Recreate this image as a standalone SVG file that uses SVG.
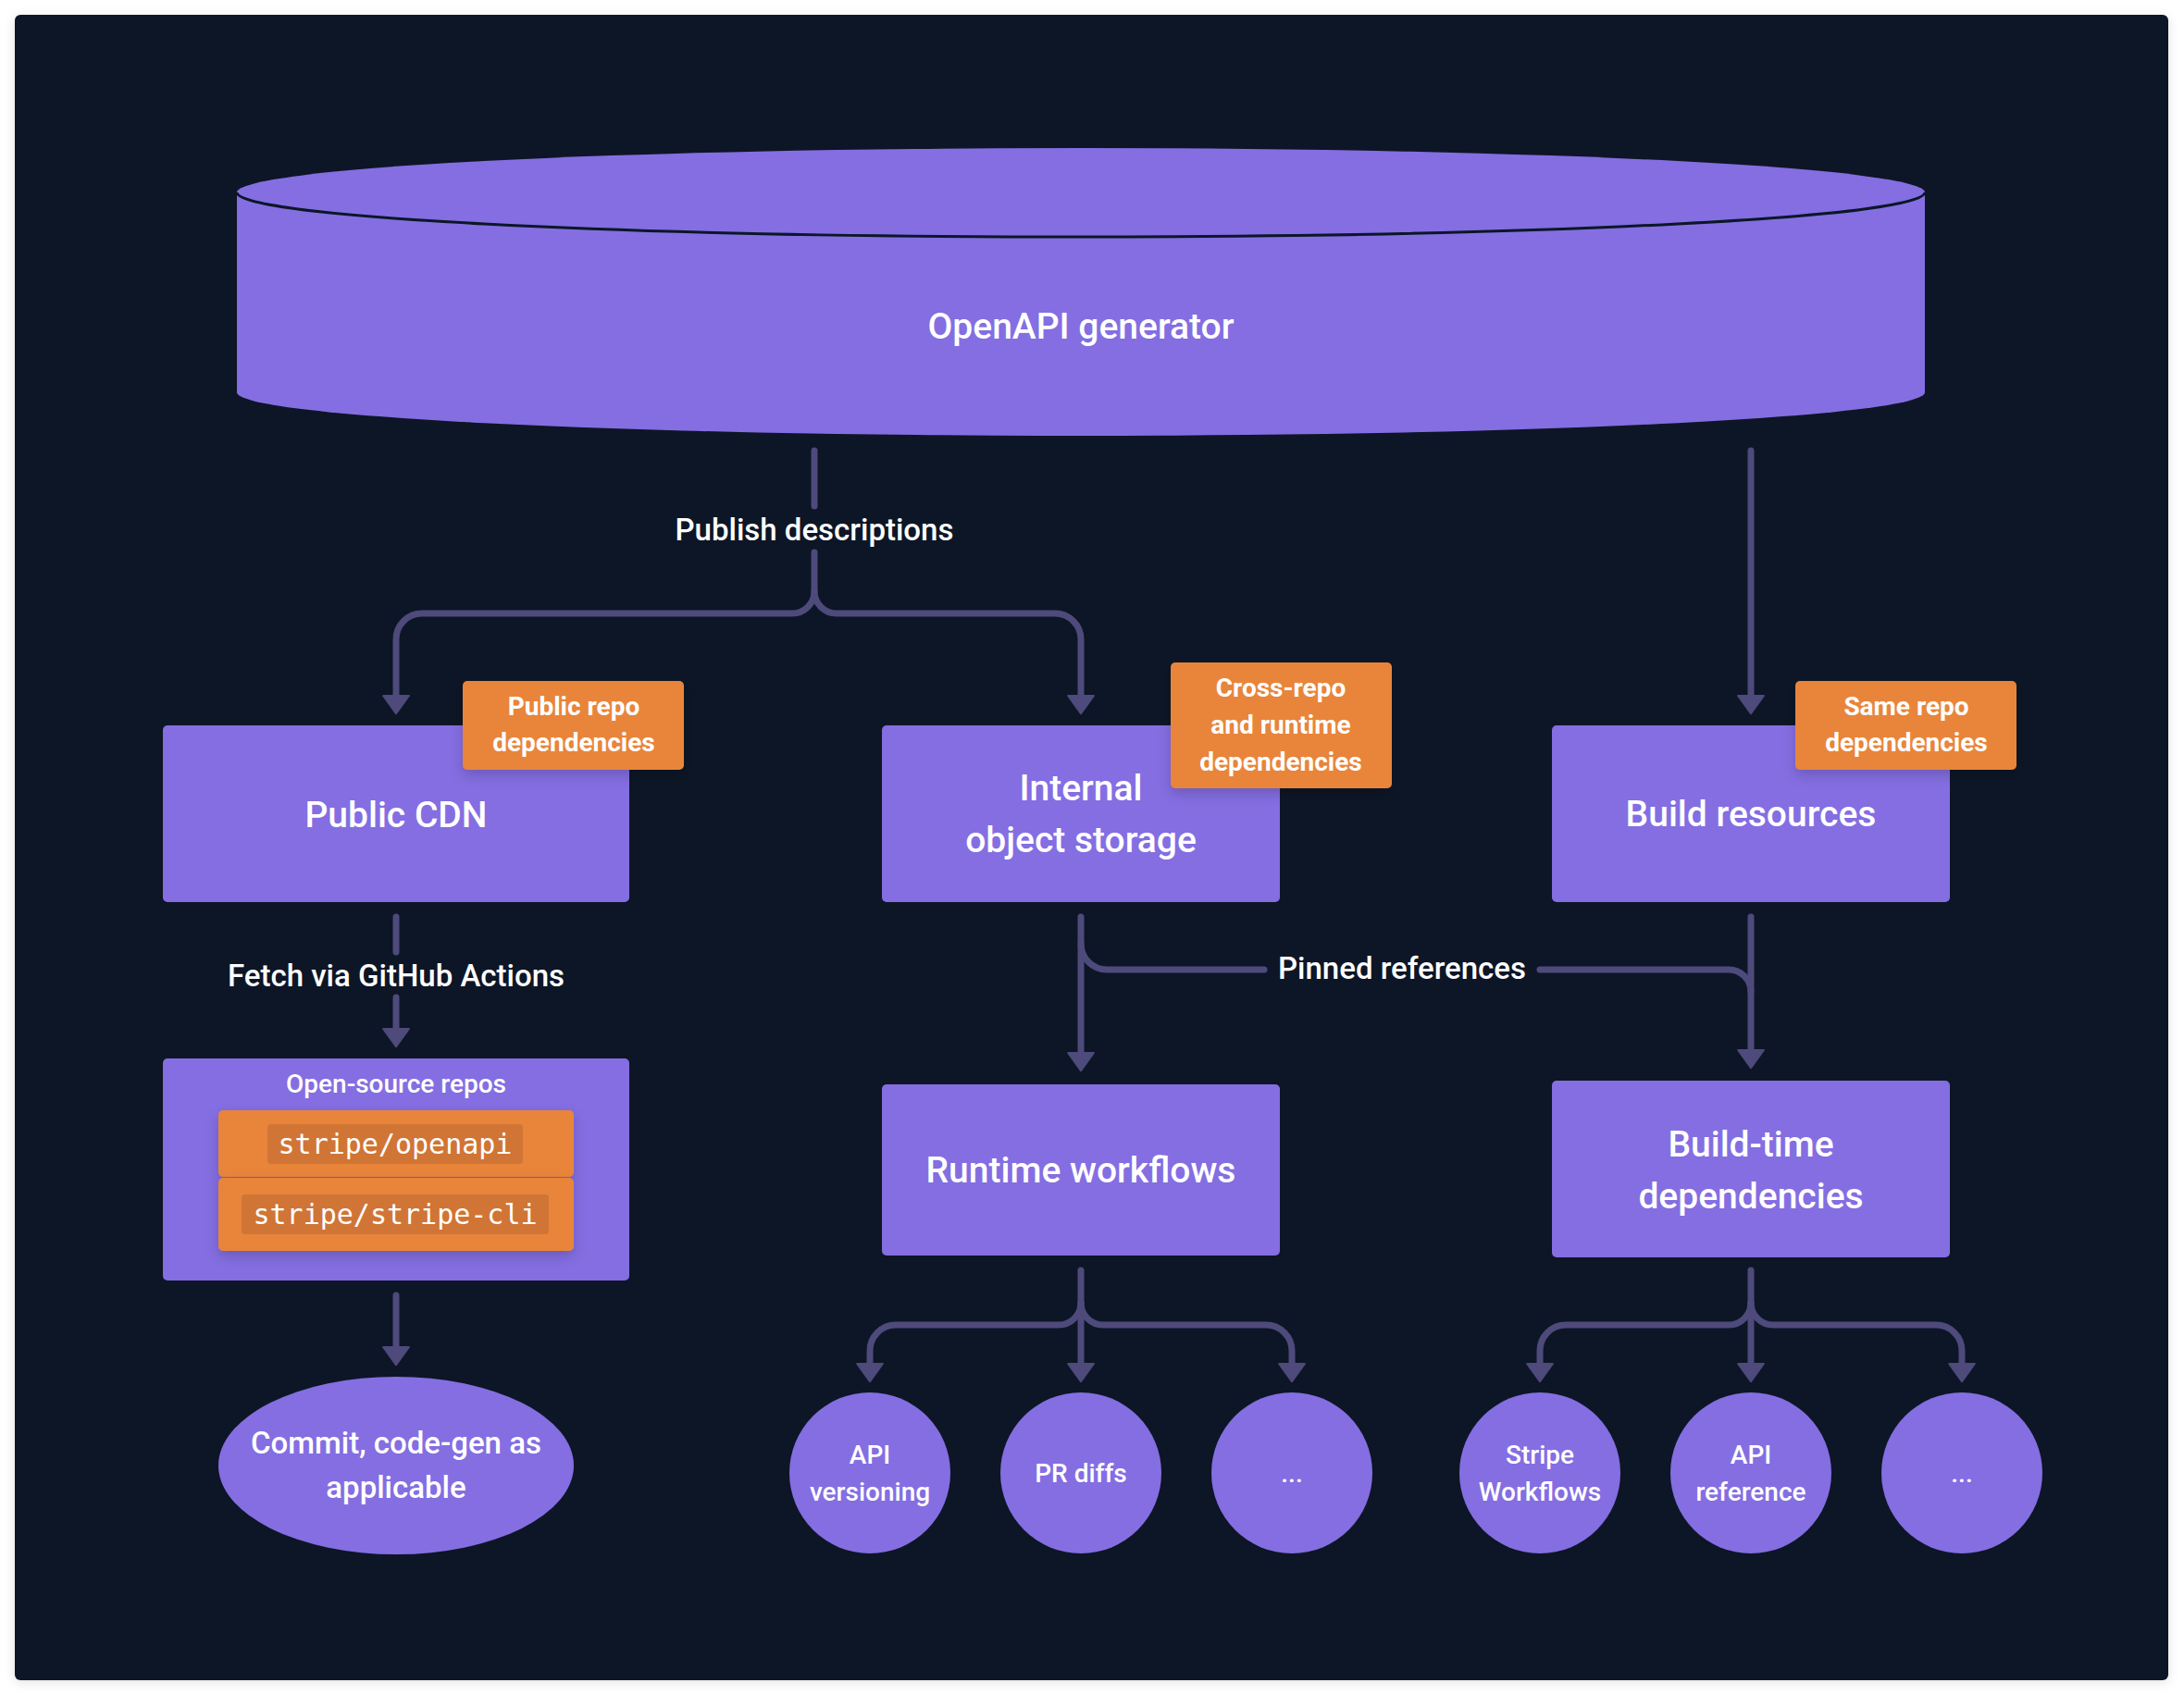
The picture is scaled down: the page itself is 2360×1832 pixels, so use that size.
<svg xmlns="http://www.w3.org/2000/svg" width="2360" height="1832" viewBox="0 0 2360 1832">
  <defs>
    <style>
      .node { fill: #846ee2; }
      .badge { fill: #e8853b; }
      .chip { fill: #d07535; }
      .t { font-family: Roboto, "Noto Sans", "Liberation Sans", sans-serif; fill: #ffffff; text-anchor: middle; font-weight: 500; }
      .tn { font-size: 39px; }
      .tb { font-size: 28px; font-weight: 700; }
      .te { font-size: 33px; }
      .tc { font-size: 28px; }
      .mono { font-family: "DejaVu Sans Mono", "Liberation Mono", monospace; font-size: 30px; fill: #ffffff; text-anchor: middle; }
      .edge { fill: none; stroke: #4e4a7b; stroke-width: 7; stroke-linecap: round; stroke-linejoin: round; }
      .arrow { marker-end: url(#ah); }
    </style>
    <marker id="ah" markerUnits="userSpaceOnUse" markerWidth="30" markerHeight="34" viewBox="-2 -16 24 32" refX="0" refY="0" orient="auto">
      <path d="M0,-13 L18,0 L0,13 Z" fill="#4e4a7b" stroke="#4e4a7b" stroke-width="2" stroke-linejoin="round"/>
    </marker>
    <filter id="sh" x="-20%" y="-20%" width="140%" height="160%">
      <feDropShadow dx="0" dy="6" stdDeviation="7" flood-color="#000000" flood-opacity="0.18"/>
    </filter>
    <filter id="psh" x="-5%" y="-5%" width="110%" height="110%">
      <feDropShadow dx="0" dy="2" stdDeviation="6" flood-color="#000000" flood-opacity="0.12"/>
    </filter>
  </defs>

  <rect x="0" y="0" width="2360" height="1832" fill="#ffffff"/>
  <rect x="16" y="16" width="2327" height="1800" rx="6" fill="#0b1727" filter="url(#psh)"/>

  <g id="connectors">
    <!-- Publish descriptions -->
    <path class="edge" d="M880,487 V547"/>
    <path class="edge arrow" d="M880,597 V639 A24,24 0 0 1 856,663 H456 A28,28 0 0 0 428,691 V752"/>
    <path class="edge arrow" d="M880,639 A24,24 0 0 0 904,663 H1140 A28,28 0 0 1 1168,691 V752"/>
    <!-- to Build resources -->
    <path class="edge arrow" d="M1892,487 V752"/>
    <!-- Fetch via GitHub Actions -->
    <path class="edge" d="M428,991 V1029"/>
    <path class="edge arrow" d="M428,1078 V1112"/>
    <!-- Open-source repos to Commit -->
    <path class="edge arrow" d="M428,1400 V1456"/>
    <!-- Internal to Runtime -->
    <path class="edge arrow" d="M1168,991 V1138"/>
    <!-- Pinned references -->
    <path class="edge" d="M1168,1020 A28,28 0 0 0 1196,1048 H1366"/>
    <path class="edge" d="M1664,1048 H1868 A24,24 0 0 1 1892,1072"/>
    <!-- Build resources to Build-time -->
    <path class="edge arrow" d="M1892,991 V1135"/>
    <!-- Runtime fan-out -->
    <path class="edge arrow" d="M1168,1373 V1474"/>
    <path class="edge arrow" d="M1168,1408 A24,24 0 0 1 1144,1432 H968 A28,28 0 0 0 940,1460 V1474"/>
    <path class="edge arrow" d="M1168,1408 A24,24 0 0 0 1192,1432 H1368 A28,28 0 0 1 1396,1460 V1474"/>
    <!-- Build-time fan-out -->
    <path class="edge arrow" d="M1892,1373 V1474"/>
    <path class="edge arrow" d="M1892,1408 A24,24 0 0 1 1868,1432 H1692 A28,28 0 0 0 1664,1460 V1474"/>
    <path class="edge arrow" d="M1892,1408 A24,24 0 0 0 1916,1432 H2092 A28,28 0 0 1 2120,1460 V1474"/>
    <!-- edge labels -->
    <text class="t te" x="880" y="584">Publish descriptions</text>
    <text class="t te" x="428" y="1066">Fetch via GitHub Actions</text>
    <text class="t te" x="1515" y="1058">Pinned references</text>
  </g>

  <g id="openapi-generator">
    <ellipse cx="1168" cy="424" rx="912" ry="47" class="node"/>
    <rect x="256" y="208" width="1824" height="216" class="node"/>
    <ellipse cx="1168" cy="208" rx="912" ry="48" class="node"/>
    <path d="M256,208 A912,48 0 0 0 2080,208" fill="none" stroke="#0b1727" stroke-width="3"/>
    <text class="t" x="1168" y="366" style="font-size:39px">OpenAPI generator</text>
  </g>

  <g id="public-cdn">
    <rect x="176" y="784" width="504" height="191" rx="5" class="node"/>
    <text class="t tn" x="428" y="894">Public CDN</text>
  </g>
  <g id="badge-public-repo">
    <rect x="500" y="736" width="239" height="96" rx="5" class="badge" filter="url(#sh)"/>
    <text class="t tb" x="620" y="773">Public repo</text>
    <text class="t tb" x="620" y="812">dependencies</text>
  </g>

  <g id="internal-object-storage">
    <rect x="953" y="784" width="430" height="191" rx="5" class="node"/>
    <text class="t tn" x="1168" y="865">Internal</text>
    <text class="t tn" x="1168" y="921">object storage</text>
  </g>
  <g id="badge-cross-repo">
    <rect x="1265" y="716" width="239" height="136" rx="5" class="badge" filter="url(#sh)"/>
    <text class="t tb" x="1384" y="753">Cross-repo</text>
    <text class="t tb" x="1384" y="793">and runtime</text>
    <text class="t tb" x="1384" y="833">dependencies</text>
  </g>

  <g id="build-resources">
    <rect x="1677" y="784" width="430" height="191" rx="5" class="node"/>
    <text class="t tn" x="1892" y="893">Build resources</text>
  </g>
  <g id="badge-same-repo">
    <rect x="1940" y="736" width="239" height="96" rx="5" class="badge" filter="url(#sh)"/>
    <text class="t tb" x="2060" y="773">Same repo</text>
    <text class="t tb" x="2060" y="812">dependencies</text>
  </g>

  <g id="open-source-repos">
    <rect x="176" y="1144" width="504" height="240" rx="5" class="node"/>
    <text class="t" x="428" y="1181" style="font-size:28px">Open-source repos</text>
    <g id="repo-openapi">
      <rect x="236" y="1200" width="384" height="72" rx="5" class="badge" filter="url(#sh)"/>
      <rect x="289" y="1215" width="276" height="43" rx="4" class="chip"/>
      <text class="mono" x="427" y="1247">stripe/openapi</text>
    </g>
    <g id="repo-stripe-cli">
      <rect x="236" y="1273" width="384" height="79" rx="5" class="badge" filter="url(#sh)"/>
      <rect x="261" y="1291" width="332" height="43" rx="4" class="chip"/>
      <text class="mono" x="427" y="1323">stripe/stripe-cli</text>
    </g>
  </g>

  <g id="commit-codegen">
    <ellipse cx="428" cy="1584" rx="192" ry="96" class="node"/>
    <text class="t" x="428" y="1571" style="font-size:33px">Commit, code-gen as</text>
    <text class="t" x="428" y="1619" style="font-size:33px">applicable</text>
  </g>

  <g id="runtime-workflows">
    <rect x="953" y="1172" width="430" height="185" rx="5" class="node"/>
    <text class="t tn" x="1168" y="1278">Runtime workflows</text>
  </g>

  <g id="build-time-dependencies">
    <rect x="1677" y="1168" width="430" height="191" rx="5" class="node"/>
    <text class="t tn" x="1892" y="1250">Build-time</text>
    <text class="t tn" x="1892" y="1306">dependencies</text>
  </g>

  <g id="api-versioning">
    <circle cx="940" cy="1592" r="87" class="node"/>
    <text class="t tc" x="940" y="1582">API</text>
    <text class="t tc" x="940" y="1622">versioning</text>
  </g>
  <g id="pr-diffs">
    <circle cx="1168" cy="1592" r="87" class="node"/>
    <text class="t tc" x="1168" y="1602">PR diffs</text>
  </g>
  <g id="runtime-more">
    <circle cx="1396" cy="1592" r="87" class="node"/>
    <text class="t tc" x="1396" y="1602">...</text>
  </g>

  <g id="stripe-workflows">
    <circle cx="1664" cy="1592" r="87" class="node"/>
    <text class="t tc" x="1664" y="1582">Stripe</text>
    <text class="t tc" x="1664" y="1622">Workflows</text>
  </g>
  <g id="api-reference">
    <circle cx="1892" cy="1592" r="87" class="node"/>
    <text class="t tc" x="1892" y="1582">API</text>
    <text class="t tc" x="1892" y="1622">reference</text>
  </g>
  <g id="buildtime-more">
    <circle cx="2120" cy="1592" r="87" class="node"/>
    <text class="t tc" x="2120" y="1602">...</text>
  </g>
</svg>
